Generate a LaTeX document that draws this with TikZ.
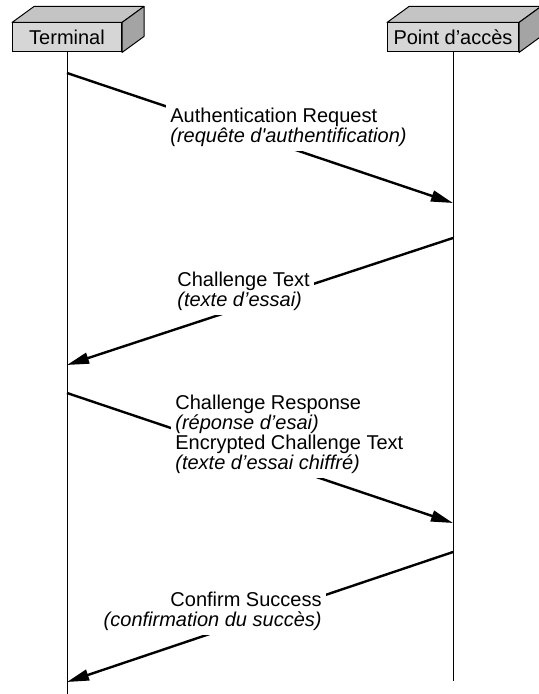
\documentclass[tikz,border=0pt]{standalone}
\usepackage{fontspec}
\setmainfont{Liberation Sans}
\usetikzlibrary{arrows.meta}
\definecolor{boxfront}{HTML}{D6D6D6}
\definecolor{boxtop}{HTML}{C4C4C4}
\definecolor{boxside}{HTML}{A4A4A4}
\begin{document}
\begin{tikzpicture}[
    x=0.5pt, y=-0.5pt,
    unit/.style={rectangle, draw, fill=boxfront, line width=0.5pt, minimum height=14.5pt, inner sep=0pt, font=\fontsize{10}{10}\selectfont},
    face/.style={draw, line width=0.5pt, line join=round},
    lifeline/.style={line width=0.5pt},
    message/.style={-{Triangle[length=11pt, width=5.5pt]}, line width=1.2pt},
    msglabel/.style={fill=white, inner sep=2pt, font=\fontsize{10}{10}\selectfont}
]
\useasboundingbox (0,0) rectangle (538,694);

% units with their 3D faces
\node[unit, minimum width=54.5pt] (term) at (67,37.5) {Terminal};
\node[unit, minimum width=65.5pt] (ap) at (453,37.5) {Point d’accès};
\foreach \u in {term, ap} {
  \draw[face, fill=boxtop] (\u.north west) -- ++(22,-16) -- ([shift={(22,-16)}]\u.north east) -- (\u.north east) -- cycle;
  \draw[face, fill=boxside] (\u.north east) -- ++(22,-16) -- ([shift={(22,-16)}]\u.south east) -- (\u.south east) -- cycle;
}

% lifelines
\coordinate (termend) at (67,694);
\coordinate (apend) at (453,681);
\draw[lifeline] (term.south) -- (termend);
\draw[lifeline] (ap.south) -- (apend);

% messages
\coordinate (t1) at (67,73);
\coordinate (a1) at (453,203);
\coordinate (a2) at (453,238);
\coordinate (t2) at (67,365);
\coordinate (t3) at (67,393);
\coordinate (a3) at (453,523);
\coordinate (a4) at (453,552);
\coordinate (t4) at (67,682);
\draw[message] (t1) -- (a1);
\draw[message] (a2) -- (t2);
\draw[message] (t3) -- (a3);
\draw[message] (a4) -- (t4);

\node[msglabel, align=left, anchor=north west] (m1) at (166,104) {Authentication Request\\\textit{(requête d\textquotesingle authentification)}};
\node[msglabel, align=left, anchor=north west] (m2) at (173,268) {Challenge Text\\\textit{(texte d’essai)}};
\node[msglabel, align=left, anchor=north west] (m3) at (171,391) {Challenge Response\\\textit{(réponse d’esai)}\\Encrypted Challenge Text\\\textit{(texte d’essai chiffré)}};
\node[msglabel, align=right, anchor=north east] (m4) at (326,588) {Confirm Success\\\textit{(confirmation du succès)}};
\end{tikzpicture}
\end{document}
